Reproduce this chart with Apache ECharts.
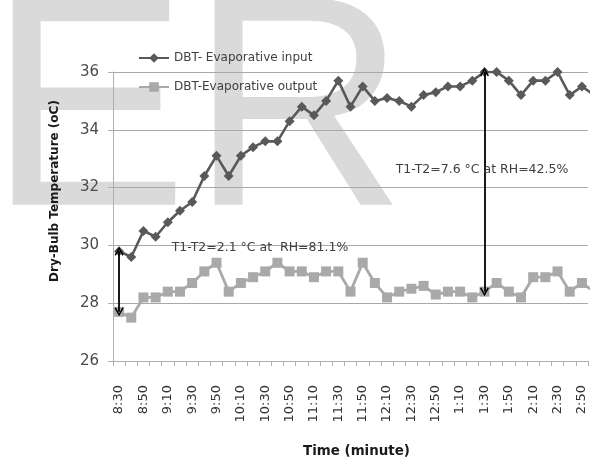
<!DOCTYPE html>
<html>
<head>
<meta charset="utf-8">
<script src="https://cdn.jsdelivr.net/npm/echarts@6/dist/echarts.min.js"></script>
<style>
  html, body { margin: 0; padding: 0; background: #fff; }
  #chart { width: 594px; height: 463px; }
</style>
</head>
<body>
<div id="chart"></div>
<script>
// Sampling times, every 10 minutes
const times = [
  '8:30','8:40','8:50','9:00','9:10','9:20','9:30','9:40','9:50','10:00',
  '10:10','10:20','10:30','10:40','10:50','11:00','11:10','11:20','11:30','11:40',
  '11:50','12:00','12:10','12:20','12:30','12:40','12:50','1:00','1:10','1:20',
  '1:30','1:40','1:50','2:00','2:10','2:20','2:30','2:40','2:50','3:00'
];

// Dry-bulb temperature at the cooler inlet (°C)
const dbtInput = [
  29.8, 29.6, 30.5, 30.3, 30.8, 31.2, 31.5, 32.4, 33.1, 32.4,
  33.1, 33.4, 33.6, 33.6, 34.3, 34.8, 34.5, 35.0, 35.7, 34.8,
  35.5, 35.0, 35.1, 35.0, 34.8, 35.2, 35.3, 35.5, 35.5, 35.7,
  36.0, 36.0, 35.7, 35.2, 35.7, 35.7, 36.0, 35.2, 35.5, 35.2
];

// Dry-bulb temperature at the cooler outlet (°C)
const dbtOutput = [
  27.7, 27.5, 28.2, 28.2, 28.4, 28.4, 28.7, 29.1, 29.4, 28.4,
  28.7, 28.9, 29.1, 29.4, 29.1, 29.1, 28.9, 29.1, 29.1, 28.4,
  29.4, 28.7, 28.2, 28.4, 28.5, 28.6, 28.3, 28.4, 28.4, 28.2,
  28.4, 28.7, 28.4, 28.2, 28.9, 28.9, 29.1, 28.4, 28.7, 28.4
];

const yTicks = { min: 26, max: 36, step: 2 };

// Indices where the temperature drop is annotated
const lowDropIdx = 0;   // 8:30, RH = 81.1 %
const highDropIdx = 30; // 1:30, RH = 42.5 %

const seriesNames = ['DBT- Evaporative input', 'DBT-Evaporative output'];

const FONT = '"DejaVu Sans", "Liberation Sans", sans-serif';
const ARROW = 'path://M5,0 L10,8 L8.6,9 L5,2.8 L1.4,9 L0,8 Z';

function drop(idx) {
  return [
    { coord: [times[idx], dbtInput[idx]] },
    { coord: [times[idx], dbtOutput[idx]] }
  ];
}
function fmt(v) { return v.toFixed(1); }

const chart = echarts.init(document.getElementById('chart'), null, { renderer: 'canvas' });

chart.setOption({
  animation: false,
  backgroundColor: '#ffffff',
  textStyle: { fontFamily: FONT },
  graphic: {
    elements: [
      // large pale lettering behind the plot
      {
        type: 'text', x: -12, y: 122, z: -10, silent: true,
        style: { text: 'E', font: 'normal 300px "Liberation Sans"', fill: '#dadada',
                 align: 'left', verticalAlign: 'middle' }
      },
      {
        type: 'text', x: 190, y: 122, z: -10, silent: true,
        style: { text: 'R', font: 'normal 300px "Liberation Sans"', fill: '#dadada',
                 align: 'left', verticalAlign: 'middle' }
      },
      {
        type: 'text', x: 260, y: 248, z: 50, silent: true,
        style: {
          text: 'T1-T2=' + fmt(dbtInput[lowDropIdx] - dbtOutput[lowDropIdx]) + ' °C at  RH=81.1%',
          font: 'normal 12.5px ' + FONT, fill: '#404040', align: 'center', verticalAlign: 'middle'
        }
      },
      {
        type: 'text', x: 482, y: 170, z: 50, silent: true,
        style: {
          text: 'T1-T2=' + fmt(dbtInput[highDropIdx] - dbtOutput[highDropIdx]) + ' °C at RH=42.5%',
          font: 'normal 12.5px ' + FONT, fill: '#404040', align: 'center', verticalAlign: 'middle'
        }
      },
      {
        type: 'text', x: 55, y: 191, rotation: Math.PI / 2, z: 50, silent: true,
        style: {
          text: 'Dry-Bulb Temperature (oC)',
          font: 'bold 12px ' + FONT, fill: '#1a1a1a', align: 'center', verticalAlign: 'middle'
        }
      }
    ]
  },
  legend: {
    orient: 'vertical',
    left: 133,
    top: 47,
    itemWidth: 30,
    itemHeight: 12,
    itemGap: 17,
    data: seriesNames,
    textStyle: { fontFamily: FONT, fontSize: 12, color: '#404040' }
  },
  grid: { left: 113, right: 6, top: 72, bottom: 95, containLabel: false },
  xAxis: {
    type: 'category',
    data: times,
    max: times.length - 2,
    boundaryGap: true,
    name: 'Time (minute)',
    nameLocation: 'middle',
    nameGap: 84,
    nameTextStyle: { fontFamily: FONT, fontSize: 13.4, fontWeight: 'bold', color: '#1a1a1a',
                     padding: [0, 0, 0, 12] },
    axisLine: { show: true, lineStyle: { color: '#b0b0b0', width: 1 } },
    axisTick: { show: true, interval: 0, length: 5, lineStyle: { color: '#b0b0b0' } },
    axisLabel: { interval: 1, rotate: 90, margin: 24, fontFamily: FONT, fontSize: 13, color: '#333' },
    splitLine: { show: false }
  },
  yAxis: {
    type: 'value',
    min: yTicks.min,
    max: yTicks.max,
    interval: yTicks.step,
    axisLine: { show: true, lineStyle: { color: '#b0b0b0', width: 1 } },
    axisTick: { show: true, length: 5, lineStyle: { color: '#b0b0b0' } },
    axisLabel: { margin: 14, fontFamily: FONT, fontSize: 15, color: '#4a4a4a' },
    splitLine: { show: true, lineStyle: { color: '#a8a8a8', width: 1 } }
  },
  series: [
    {
      name: seriesNames[0],
      type: 'line',
      data: dbtInput,
      clip: true,
      symbol: 'diamond',
      symbolSize: 10,
      showSymbol: true,
      showAllSymbol: true,
      z: 4,
      lineStyle: { color: '#595959', width: 2.6 },
      itemStyle: { color: '#595959' },
      markLine: {
        silent: true,
        symbol: [ARROW, ARROW],
        symbolSize: [9, 9],
        label: { show: false },
        lineStyle: { color: '#000', width: 1.8, type: 'solid' },
        emphasis: { disabled: true },
        data: [drop(lowDropIdx), drop(highDropIdx)]
      }
    },
    {
      name: seriesNames[1],
      type: 'line',
      data: dbtOutput,
      clip: true,
      symbol: 'rect',
      symbolSize: 10,
      showSymbol: true,
      showAllSymbol: true,
      z: 3,
      lineStyle: { color: '#a9a9a9', width: 2.8 },
      itemStyle: { color: '#a9a9a9' }
    }
  ]
});
</script>
</body>
</html>
